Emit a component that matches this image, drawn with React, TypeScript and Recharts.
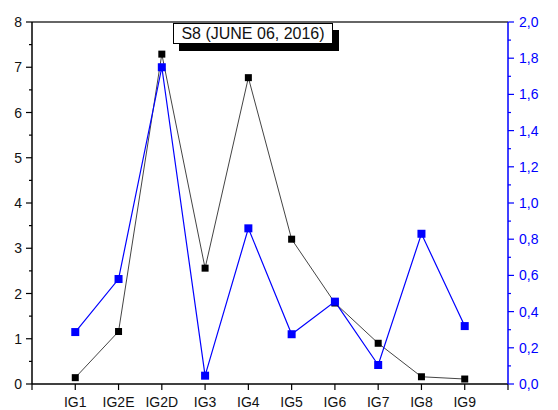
import { LineChart, Line, XAxis, YAxis, ReferenceLine } from 'recharts'

const categories = ['IG1', 'IG2E', 'IG2D', 'IG3', 'IG4', 'IG5', 'IG6', 'IG7', 'IG8', 'IG9']
const blackValues = [0.14, 1.16, 7.29, 2.56, 6.77, 3.2, 1.79, 0.9, 0.16, 0.11]
const blueValues = [0.287, 0.58, 1.75, 0.046, 0.86, 0.275, 0.455, 0.105, 0.83, 0.32]
const leftTicks = Array.from({ length: 17 }, (_, i) => i * 0.5)
const rightTicks = Array.from({ length: 21 }, (_, i) => Math.round(i) / 10)
const xTicks = Array.from({ length: 12 }, (_, i) => i)
const title = 'S8 (JUNE 06, 2016)'

const data = categories.map((name, i) => ({
    x: i + 1,
    name,
    black: blackValues[i],
    blue: blueValues[i],
}))

const BLUE = '#0000ff'
const FONT = 'Arial, "Liberation Sans", sans-serif'

function LeftTick(props: any) {
    const { x, y, payload } = props
    const v = payload.value
    const major = Math.abs(v - Math.round(v)) < 1e-6
    return (
        <g>
            <line x1={x - (major ? 6 : 3)} x2={x} y1={y} y2={y} stroke="#000" strokeWidth={1.2} />
            {major && (
                <text x={x - 10} y={y} textAnchor="end" dominantBaseline="central" fontSize={14} fontFamily={FONT} fill="#111">
                    {v}
                </text>
            )}
        </g>
    )
}

function RightTick(props: any) {
    const { x, y, payload } = props
    const v = payload.value
    const major = Math.round(v * 10) % 2 === 0
    return (
        <g>
            <line x1={x} x2={x + (major ? 6 : 3)} y1={y} y2={y} stroke={BLUE} strokeWidth={1.2} />
            {major && (
                <text x={x + 11} y={y} textAnchor="start" dominantBaseline="central" fontSize={14} fontFamily={FONT} fill={BLUE}>
                    {v.toFixed(1).replace('.', ',')}
                </text>
            )}
        </g>
    )
}

function BottomTick(props: any) {
    const { x, y, payload } = props
    const i = payload.value
    const label = i >= 1 && i <= categories.length ? categories[i - 1] : ''
    return (
        <g>
            <line x1={x} x2={x} y1={y} y2={y + 6} stroke="#000" strokeWidth={1.2} />
            {label && (
                <text x={x} y={y + 23} textAnchor="middle" fontSize={14} fontFamily={FONT} fill="#111">
                    {label}
                </text>
            )}
        </g>
    )
}

function Square(props: any) {
    const { cx, cy, fill, size } = props
    if (cx == null || cy == null) return null
    return <rect x={cx - size / 2} y={cy - size / 2} width={size} height={size} fill={fill} />
}

export default function App() {
    return (
        <div style={{ position: 'absolute', left: 0, top: 0, width: 558, height: 410, background: '#fff' }}>
            <LineChart width={558} height={410} data={data} margin={{ top: 22, right: 0, left: 0, bottom: 0 }}>
                <XAxis
                    dataKey="x"
                    type="number"
                    domain={[0, 11]}
                    ticks={xTicks}
                    interval={0}
                    height={26}
                    tickSize={0}
                    tickMargin={0}
                    tickLine={false}
                    tick={<BottomTick />}
                    axisLine={{ stroke: '#000', strokeWidth: 1.5 }}
                />
                <YAxis
                    yAxisId="left"
                    orientation="left"
                    type="number"
                    domain={[0, 8]}
                    ticks={leftTicks}
                    interval={0}
                    width={32}
                    tickSize={0}
                    tickMargin={0}
                    tickLine={false}
                    tick={<LeftTick />}
                    axisLine={{ stroke: '#000', strokeWidth: 1.5 }}
                />
                <YAxis
                    yAxisId="right"
                    orientation="right"
                    type="number"
                    domain={[0, 2]}
                    ticks={rightTicks}
                    interval={0}
                    width={50}
                    tickSize={0}
                    tickMargin={0}
                    tickLine={false}
                    tick={<RightTick />}
                    axisLine={{ stroke: BLUE, strokeWidth: 1.5 }}
                />
                <ReferenceLine yAxisId="left" y={8} stroke="#333" strokeWidth={1.5} />
                <Line
                    yAxisId="left"
                    dataKey="black"
                    stroke="#444"
                    strokeWidth={1}
                    dot={<Square fill="#000" size={7} />}
                    activeDot={false}
                    isAnimationActive={false}
                />
                <Line
                    yAxisId="right"
                    dataKey="blue"
                    stroke={BLUE}
                    strokeWidth={1.2}
                    dot={<Square fill={BLUE} size={8} />}
                    activeDot={false}
                    isAnimationActive={false}
                />
            </LineChart>
            <div
                style={{
                    position: 'absolute',
                    left: 173,
                    top: 23,
                    width: 158,
                    height: 19,
                    border: '1px solid #000',
                    background: '#fff',
                    boxShadow: '6px 7px 0 #000',
                    fontFamily: FONT,
                    fontSize: 16,
                    lineHeight: '19px',
                    textAlign: 'center',
                    color: '#111',
                }}
            >
                {title}
            </div>
        </div>
    )
}
